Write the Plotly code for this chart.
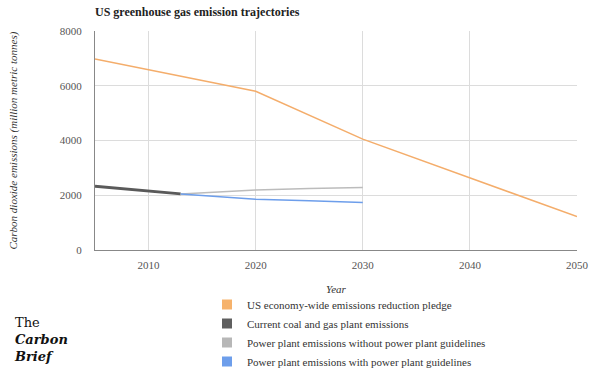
import plotly.graph_objects as go

title = "US greenhouse gas emission trajectories"
y_title = "Carbon dioxide emissions (million metric tonnes)"
pledge_years = [2005, 2020, 2030, 2050]
pledge_vals = [6980, 5800, 4050, 1220]
current_years = [2005, 2013]
current_vals = [2330, 2050]
without_years = [2013, 2020, 2025, 2030]
without_vals = [2050, 2190, 2250, 2280]
with_years = [2013, 2020, 2025, 2030]
with_vals = [2050, 1850, 1800, 1735]
names = ["US economy-wide emissions reduction pledge",
         "Current coal and gas plant emissions",
         "Power plant emissions without power plant guidelines",
         "Power plant emissions with power plant guidelines"]
line_colors = ["#f4ad6b", "#5a5a5a", "#bcbcbc", "#6d9eeb"]
square_colors = ["#f6b26b", "#5f5f5f", "#b7b7b7", "#6d9eeb"]
widths = [1.5, 3, 1.5, 1.5]
x_ticks = [2010, 2020, 2030, 2040, 2050]
y_ticks = [0, 2000, 4000, 6000, 8000]

SERIF = "Liberation Serif, serif"
W, H = 600, 369
L, R, T, B = 95, 23, 31, 119
PW, PH = W - L - R, H - T - B

fig = go.Figure()
series = [(pledge_years, pledge_vals), (current_years, current_vals),
          (without_years, without_vals), (with_years, with_vals)]
for (xs, ys), c, w in zip(series, line_colors, widths):
    fig.add_trace(go.Scatter(x=xs, y=ys, mode="lines", line=dict(color=c, width=w),
                             showlegend=False, hoverinfo="skip"))
for n, c in zip(names, square_colors):
    fig.add_trace(go.Scatter(x=[None], y=[None], mode="markers", name=n,
                             marker=dict(symbol="square", size=10, color=c)))

fig.update_layout(
    width=W, height=H,
    margin=dict(l=L, r=R, t=T, b=B, autoexpand=False),
    paper_bgcolor="white", plot_bgcolor="white",
    font=dict(family=SERIF, color="#333"),
    title=dict(text="<b>" + title + "</b>", x=L / W, xanchor="left", xref="container",
               y=1 - 12 / H, yanchor="middle", yref="container",
               font=dict(size=12, color="#222", family=SERIF)),
    xaxis=dict(range=[2005, 2050], tickvals=x_ticks, showgrid=True, gridcolor="#dcdcdc",
               showline=True, linecolor="#888", linewidth=1, zeroline=False,
               tickfont=dict(size=11, color="#555"), ticks="", ticklabelstandoff=5,
               automargin=True,
               title=dict(text="<i>Year</i>", font=dict(size=11, color="#333"), standoff=15)),
    yaxis=dict(range=[0, 8000], tickvals=y_ticks, showgrid=True, gridcolor="#dcdcdc",
               showline=True, linecolor="#888", linewidth=1, zeroline=False,
               tickfont=dict(size=11, color="#555"), ticks="", ticklabelstandoff=10,
               automargin=True),
    legend=dict(x=207 / W, y=1 - 290 / H, xref="container", yref="container",
                xanchor="left", yanchor="top",
                font=dict(size=11, color="#333", family=SERIF),
                itemwidth=30, tracegroupgap=0, bgcolor="rgba(0,0,0,0)"),
    showlegend=True,
)
fig.add_annotation(text="<i>" + y_title + "</i>", textangle=-90,
                   xref="paper", yref="paper", x=(13 - L) / PW, y=0.5,
                   xanchor="center", yanchor="middle", showarrow=False,
                   font=dict(size=11, color="#333", family=SERIF))
fig.add_annotation(text="The<br><b><i>Carbon</i></b><br><b><i>Brief</i></b>",
                   xref="paper", yref="paper", x=(12 - L) / PW, y=(H - B - 313) / PH,
                   xanchor="left", yanchor="top", align="left", showarrow=False,
                   font=dict(size=13, color="#111", family="DejaVu Serif, serif"))
fig.write_html("out.html", config={"displayModeBar": False},
               post_script="document.body.style.margin='0';")
